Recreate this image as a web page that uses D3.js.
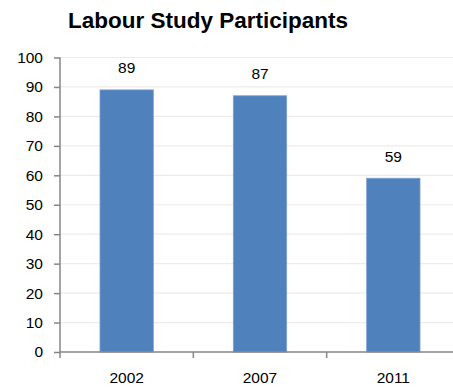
<!DOCTYPE html>
<html>
<head>
<meta charset="utf-8">
<script src="https://cdn.jsdelivr.net/npm/d3@7"></script>
<style>
  html, body { margin: 0; padding: 0; background: #fff; overflow: hidden; }
  svg { display: block; font-family: "Liberation Sans", Arial, sans-serif; }
</style>
</head>
<body>
<svg id="chart" width="453" height="388"></svg>
<script>
// Survey years and the number of participants in each
const years = ["2002", "2007", "2011"];
const participants = [89, 87, 59];
const yTicks = [0, 10, 20, 30, 40, 50, 60, 70, 80, 90, 100];
const title = "Labour Study Participants";

const svg = d3.select("#chart");
const plotLeft = 60, plotTop = 57.5, plotBottom = 352, plotRight = 460;
const labelSize = 15.5;

const x = d3.scaleBand().domain(years).range([plotLeft, plotRight]).paddingInner(0.6).paddingOuter(0.3);
const xCat = d3.scaleBand().domain(years).range([plotLeft, plotRight]);
const y = d3.scaleLinear().domain([0, 100]).range([plotBottom, plotTop]);

// Title
svg.append("text")
  .attr("x", 68).attr("y", 28)
  .attr("font-size", 22.5).attr("font-weight", "bold").attr("fill", "#000")
  .text(title);

// Light horizontal gridlines
svg.append("g").selectAll("line")
  .data(yTicks.filter(d => d > 0))
  .join("line")
  .attr("x1", plotLeft).attr("x2", 453)
  .attr("y1", d => y(d)).attr("y2", d => y(d))
  .attr("stroke", "#ececec").attr("stroke-width", 1.2);

// Bars
svg.append("g").selectAll("rect")
  .data(years)
  .join("rect")
  .attr("x", d => x(d))
  .attr("width", x.bandwidth())
  .attr("y", (d, i) => y(participants[i]))
  .attr("height", (d, i) => y(0) - y(participants[i]))
  .attr("fill", "#4F81BD")
  .attr("stroke", "#7A9FD0").attr("stroke-width", 0.8);

// Value labels above bars
svg.append("g").selectAll("text")
  .data(years)
  .join("text")
  .attr("x", d => x(d) + x.bandwidth() / 2)
  .attr("y", (d, i) => y(participants[i]) - 16.5)
  .attr("text-anchor", "middle")
  .attr("font-size", labelSize).attr("fill", "#000")
  .text((d, i) => participants[i]);

// Y axis
const yAxis = svg.append("g")
  .attr("transform", `translate(${plotLeft},0)`)
  .call(d3.axisLeft(y).tickValues(yTicks).tickSize(6).tickPadding(11));
yAxis.select(".domain").attr("stroke", "#868686").attr("stroke-width", 1.5).attr("d", `M0,${plotTop}V${plotBottom}`);
yAxis.selectAll(".tick line").attr("stroke", "#868686").attr("stroke-width", 1.5);
yAxis.selectAll(".tick text").attr("font-size", labelSize).attr("fill", "#000")
  .attr("font-family", "Liberation Sans, Arial, sans-serif");

// X axis with ticks at category boundaries
const xAxis = svg.append("g").attr("transform", `translate(0,${plotBottom})`);
xAxis.append("line")
  .attr("x1", plotLeft).attr("x2", 453).attr("y1", 0).attr("y2", 0)
  .attr("stroke", "#868686").attr("stroke-width", 1.5);
xAxis.selectAll("line.sep")
  .data(years)
  .join("line").attr("class", "sep")
  .attr("x1", d => xCat(d)).attr("x2", d => xCat(d))
  .attr("y1", 0).attr("y2", 6)
  .attr("stroke", "#868686").attr("stroke-width", 1.5);
xAxis.selectAll("text.cat")
  .data(years)
  .join("text").attr("class", "cat")
  .attr("x", d => xCat(d) + xCat.bandwidth() / 2)
  .attr("y", 31)
  .attr("text-anchor", "middle")
  .attr("font-size", labelSize).attr("fill", "#000")
  .text(d => d);
</script>
</body>
</html>
